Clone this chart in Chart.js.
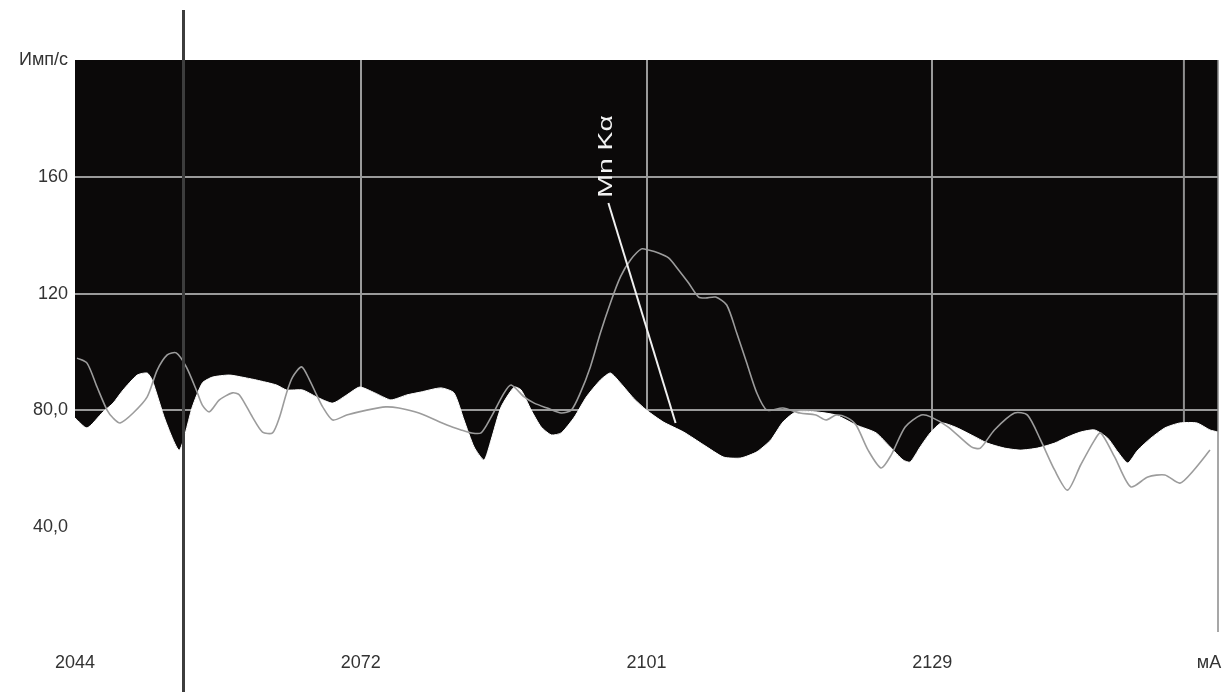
<!DOCTYPE html>
<html>
<head>
<meta charset="utf-8">
<script src="https://cdn.jsdelivr.net/npm/chart.js@4/dist/chart.umd.min.js"></script>
<style>
  html, body { margin: 0; padding: 0; background: #fff; }
  #wrap { width: 1230px; height: 695px; }
</style>
</head>
<body>
<div id="wrap"><canvas id="spec" width="1230" height="695"></canvas></div>
<script>
// axis ticks
const xTicks = [2044, 2072.5, 2101, 2129.5, 2158];
const xTickLabels = ['2044', '2072', '2101', '2129', 'мА\u2002\u2002'];
const yTicks = [0, 40, 80, 120, 160, 200];
const yTickLabels = ['', '40,0', '80,0', '120', '160', 'Имп/с'];

// filled spectrum (white area)
const fillX = [2044.0,2045.2,2046.8,2047.8,2048.8,2050.2,2051.2,2051.7,2053.0,2054.4,2055.7,2056.7,2057.7,2059.4,2061.1,2062.1,2064.1,2065.1,2066.7,2068.1,2069.7,2071.1,2072.4,2073.9,2075.5,2077.1,2078.5,2080.5,2081.8,2082.8,2083.8,2084.8,2085.5,2086.5,2087.8,2088.5,2089.5,2090.5,2091.5,2092.5,2093.8,2095.0,2096.4,2097.4,2098.4,2099.7,2101.0,2102.7,2104.7,2106.7,2108.7,2110.4,2112.0,2113.4,2114.6,2115.9,2117.9,2119.9,2121.9,2123.9,2125.3,2126.6,2127.3,2128.3,2129.3,2130.4,2131.8,2133.4,2135.0,2136.7,2138.3,2140.0,2141.7,2143.0,2144.3,2145.7,2147.0,2148.0,2149.0,2150.0,2151.3,2152.7,2154.2,2155.9,2157.2,2158.0];
const fillCounts = [77.4,74.0,79.5,82.5,87.0,92.1,92.8,90.4,76.7,66.4,81.2,89.4,91.4,92.1,91.1,90.4,88.7,87.0,87.0,84.6,82.5,85.3,88.0,86.0,83.6,85.3,86.3,87.7,86.0,76.7,67.5,63.0,69.9,81.2,88.0,87.0,80.1,74.3,71.6,72.3,77.7,84.6,90.4,92.8,89.4,84.2,80.1,76.0,72.6,68.2,64.0,63.7,65.8,69.9,76.0,79.5,79.5,78.4,75.0,72.3,67.5,63.0,62.3,67.5,72.3,75.7,74.3,71.6,68.8,67.1,66.4,67.1,68.8,70.9,72.6,73.3,70.5,65.8,62.0,66.4,70.5,74.0,75.7,75.7,73.3,72.6];

// second spectrum (thin gray trace)
const traceX = [2044.2,2045.2,2046.2,2047.2,2047.8,2048.5,2049.8,2051.2,2052.2,2053.2,2054.1,2055.1,2056.1,2056.7,2057.4,2058.4,2059.7,2060.4,2061.7,2062.7,2063.7,2064.4,2065.1,2065.7,2066.6,2067.4,2068.1,2068.7,2069.7,2071.1,2073.1,2075.0,2076.3,2078.3,2081.1,2082.5,2083.5,2084.5,2085.5,2086.8,2087.5,2088.8,2089.8,2091.1,2092.5,2093.5,2094.4,2095.4,2096.4,2097.4,2098.4,2099.4,2100.5,2101.2,2102.2,2103.2,2104.2,2105.2,2106.2,2106.9,2107.9,2109.0,2110.0,2111.0,2112.0,2113.0,2114.6,2116.3,2117.9,2118.9,2119.9,2120.9,2121.9,2123.1,2124.4,2125.4,2126.8,2128.4,2129.4,2131.1,2133.4,2134.3,2135.7,2137.7,2139.0,2140.3,2141.7,2143.0,2144.3,2145.7,2146.3,2147.7,2149.3,2151.0,2152.7,2154.2,2155.6,2157.2];
const traceCounts = [97.9,96.2,88.0,80.1,77.4,75.7,79.1,84.6,93.8,99.0,99.7,94.9,87.0,81.8,79.5,83.6,86.0,85.3,77.7,72.6,72.3,77.7,86.0,91.4,94.9,90.4,85.3,81.2,76.7,78.4,80.1,81.2,80.8,79.1,75.0,73.3,72.3,72.3,77.7,86.0,88.7,84.6,82.5,80.8,79.1,80.1,86.0,94.9,106.5,116.8,125.7,131.5,135.3,134.9,133.9,132.2,128.1,123.6,118.8,118.5,118.8,116.1,106.5,96.2,86.0,80.1,80.8,79.1,78.4,76.7,78.4,77.7,75.0,66.4,60.3,64.7,74.3,78.4,77.7,74.3,67.5,67.1,73.3,79.1,78.4,69.9,59.6,52.7,61.3,69.9,72.3,64.0,53.8,57.2,57.9,55.1,59.6,66.4];

// peak label and its pointer
const peakLabel = 'Mn Kα';
const peakLabelAt = [2097.0, 167];
const pointerX = [2097.2, 2103.9];
const pointerY = [151, 75.7];

// extra vertical lines
const markerX = 2154.6;
const cursorX = 2054.75;

const FONT = "'Liberation Sans Narrow', 'Arial Narrow', 'Liberation Sans', Arial, sans-serif";
const pts = (xs, ys) => xs.map((x, i) => ({ x, y: ys[i] }));

const panel = {
    id: 'panel',
    beforeDraw(chart){
        const { ctx, chartArea: a } = chart;
        ctx.save();
        ctx.fillStyle = '#0b0909';
        ctx.fillRect(a.left, a.top, a.right - a.left, a.bottom - a.top);
        ctx.restore();
    },
    afterDatasetsDraw(chart){
        const { ctx, chartArea: a, scales: { x, y } } = chart;
        ctx.save();
        // right frame edge
        ctx.strokeStyle = '#8a8a8a';
        ctx.lineWidth = 1.5;
        ctx.beginPath();
        ctx.moveTo(a.right, a.top);
        ctx.lineTo(a.right, a.bottom - 12);
        ctx.stroke();
        // cursor line across the whole sheet
        const cx = Math.round(x.getPixelForValue(cursorX)) + 0.5;
        ctx.strokeStyle = '#3d3d3d';
        ctx.lineWidth = 3;
        ctx.beginPath();
        ctx.moveTo(cx, 10);
        ctx.lineTo(cx, 692);
        ctx.stroke();
        // peak label, written bottom to top
        ctx.translate(x.getPixelForValue(peakLabelAt[0]), y.getPixelForValue(peakLabelAt[1]));
        ctx.rotate(-Math.PI / 2);
        ctx.scale(1.35, 1);
        ctx.fillStyle = '#f2f2f2';
        ctx.font = "21px 'Liberation Sans', Arial, sans-serif";
        ctx.textAlign = 'center';
        ctx.textBaseline = 'middle';
        ctx.fillText(peakLabel, 0, 0);
        ctx.restore();
    }
};

new Chart(document.getElementById('spec'), {
    type: 'line',
    data: {
        datasets: [
            {
                data: [{ x: markerX, y: 0 }, { x: markerX, y: 200 }],
                borderColor: '#8f8f8f', borderWidth: 2, pointRadius: 0, order: 4
            },
            {
                data: pts(fillX, fillCounts),
                borderColor: '#ffffff', borderWidth: 1, backgroundColor: '#ffffff',
                fill: 'origin', pointRadius: 0, tension: 0.2, order: 3
            },
            {
                data: pts(traceX, traceCounts),
                borderColor: '#9c9c9c', borderWidth: 1.6, pointRadius: 0, tension: 0.25, order: 2
            },
            {
                data: pts(pointerX, pointerY),
                borderColor: '#f0f0f0', borderWidth: 2, pointRadius: 0, order: 1
            }
        ]
    },
    options: {
        responsive: false,
        animation: false,
        layout: { padding: { top: 60, right: 12, left: 0, bottom: 0 } },
        plugins: { legend: { display: false }, tooltip: { enabled: false } },
        scales: {
            x: {
                type: 'linear', min: 2044, max: 2158,
                afterBuildTicks: s => { s.ticks = xTicks.map(v => ({ value: v })); },
                afterFit: s => { s.height = 51; s.paddingLeft = 0; s.paddingRight = 0; },
                border: { display: false },
                grid: {
                    drawTicks: false, lineWidth: 2,
                    color: c => (c.index === 0 || c.index === xTicks.length - 1) ? 'rgba(0,0,0,0)' : '#9a9a9a'
                },
                ticks: {
                    autoSkip: false, maxRotation: 0, padding: 8, color: '#333333',
                    font: { family: FONT, size: 18 },
                    callback: (v, i) => xTickLabels[i]
                }
            },
            y: {
                min: 0, max: 200,
                afterBuildTicks: s => { s.ticks = yTicks.map(v => ({ value: v })); },
                afterFit: s => { s.width = 75; s.paddingTop = 0; s.paddingBottom = 0; },
                border: { display: false },
                grid: {
                    drawTicks: false, lineWidth: 2,
                    color: c => (c.index === 0 || c.index === yTicks.length - 1) ? 'rgba(0,0,0,0)' : '#9a9a9a'
                },
                ticks: {
                    padding: 7, color: '#333333',
                    font: { family: FONT, size: 18 },
                    callback: (v, i) => yTickLabels[i]
                }
            }
        }
    },
    plugins: [panel]
});
</script>
</body>
</html>
